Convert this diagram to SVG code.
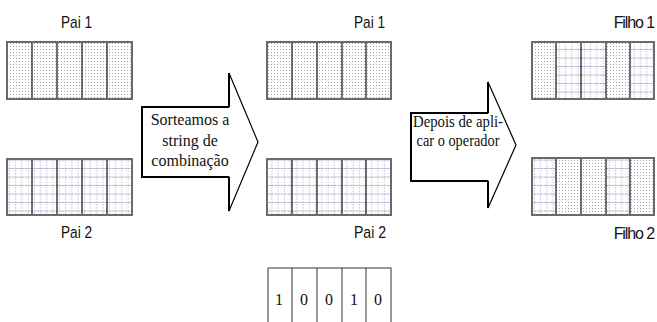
<svg xmlns="http://www.w3.org/2000/svg" width="657" height="322" viewBox="0 0 657 322">
<style>
.bg{fill:#fff}
.lbl{font-family:"Liberation Sans",Arial,sans-serif;font-size:17px;fill:#111}
.lble{font-family:"Liberation Sans",Arial,sans-serif;font-size:16px;letter-spacing:-1.1px;fill:#111;text-anchor:end}
.tx{font-family:"Liberation Serif","Times New Roman",serif;font-size:16px;fill:#111;text-anchor:middle}
.dig{font-family:"Liberation Serif","Times New Roman",serif;font-size:16px;fill:#111;text-anchor:middle}
.frame{fill:none;stroke:#6a6a6a;stroke-width:2}
.div{stroke:#222;stroke-width:1.3}
.arrow{fill:#fff;stroke:#000;stroke-width:1.2;stroke-linejoin:miter}
.arrowb{fill:none;stroke:#000;stroke-width:2}
.dots{fill:url(#pDots)}
.grid{fill:url(#pGrid)}
</style>
<defs>
<pattern id="pDots" patternUnits="userSpaceOnUse" width="3" height="3">
<rect width="3" height="3" fill="#fff"/>
<rect x="1" y="1" width="1" height="1" fill="#a4a4b0"/>
</pattern>
<pattern id="pGrid" patternUnits="userSpaceOnUse" width="6.25" height="8.5">
<rect width="6.25" height="8.5" fill="#fff"/>
<line x1="3" y1="0" x2="3" y2="8.5" stroke="#bcbcd4" stroke-width="1" stroke-dasharray="1.5 1.5"/>
<line x1="0" y1="7" x2="6.25" y2="7" stroke="#a0a0cc" stroke-width="1" stroke-dasharray="2 1"/>
</pattern>
</defs>
<rect class="bg" width="657" height="322"/>

<g id="pai1-left">
<text class="lbl" x="61" y="28" textLength="31" lengthAdjust="spacingAndGlyphs">Pai 1</text>
<rect class="dots" x="7" y="42" width="125" height="57"/>
<line class="div" x1="32" y1="42" x2="32" y2="99"/><line class="div" x1="57" y1="42" x2="57" y2="99"/><line class="div" x1="82" y1="42" x2="82" y2="99"/><line class="div" x1="107" y1="42" x2="107" y2="99"/>
<rect class="frame" x="7" y="42" width="125" height="57"/>
</g>

<g id="pai2-left">
<rect class="grid" x="7" y="159" width="125" height="56"/>
<line class="div" x1="32" y1="159" x2="32" y2="215"/><line class="div" x1="57" y1="159" x2="57" y2="215"/><line class="div" x1="82" y1="159" x2="82" y2="215"/><line class="div" x1="107" y1="159" x2="107" y2="215"/>
<rect class="frame" x="7" y="159" width="125" height="56"/>
<text class="lbl" x="61" y="238" textLength="31" lengthAdjust="spacingAndGlyphs">Pai 2</text>
</g>

<g id="pai1-mid">
<text class="lbl" x="354" y="28" textLength="31" lengthAdjust="spacingAndGlyphs">Pai 1</text>
<rect class="dots" x="267" y="42" width="124" height="57"/>
<line class="div" x1="292" y1="42" x2="292" y2="99"/><line class="div" x1="317" y1="42" x2="317" y2="99"/><line class="div" x1="342" y1="42" x2="342" y2="99"/><line class="div" x1="366" y1="42" x2="366" y2="99"/>
<rect class="frame" x="267" y="42" width="124" height="57"/>
</g>

<g id="pai2-mid">
<rect class="grid" x="267" y="159" width="124" height="56"/>
<line class="div" x1="292" y1="159" x2="292" y2="215"/><line class="div" x1="317" y1="159" x2="317" y2="215"/><line class="div" x1="342" y1="159" x2="342" y2="215"/><line class="div" x1="366" y1="159" x2="366" y2="215"/>
<rect class="frame" x="267" y="159" width="124" height="56"/>
<text class="lbl" x="354" y="238" textLength="32" lengthAdjust="spacingAndGlyphs">Pai 2</text>
</g>

<g id="mask">
<rect x="268" y="268" width="123" height="70" fill="#fff" stroke="#333" stroke-width="1"/>
<line x1="292" y1="268" x2="292" y2="330" stroke="#333"/><line x1="317" y1="268" x2="317" y2="330" stroke="#333"/><line x1="342" y1="268" x2="342" y2="330" stroke="#333"/><line x1="366" y1="268" x2="366" y2="330" stroke="#333"/>
<text class="dig" x="279" y="305">1</text><text class="dig" x="304" y="305">0</text><text class="dig" x="329" y="305">0</text><text class="dig" x="354" y="305">1</text><text class="dig" x="378" y="305">0</text>
</g>

<g id="filho1">
<text class="lble" x="654" y="28">Filho 1</text>
<rect class="dots" x="532" y="42" width="24" height="57"/>
<rect class="grid" x="556" y="42" width="50" height="57"/>
<rect class="dots" x="606" y="42" width="24" height="57"/>
<rect class="grid" x="630" y="42" width="24" height="57"/>
<line class="div" x1="556" y1="42" x2="556" y2="99"/><line class="div" x1="581" y1="42" x2="581" y2="99"/><line class="div" x1="606" y1="42" x2="606" y2="99"/><line class="div" x1="630" y1="42" x2="630" y2="99"/>
<rect class="frame" x="532" y="42" width="122" height="57"/>
</g>

<g id="filho2">
<rect class="grid" x="532" y="158" width="24" height="57"/>
<rect class="dots" x="556" y="158" width="50" height="57"/>
<rect class="grid" x="606" y="158" width="24" height="57"/>
<rect class="dots" x="630" y="158" width="24" height="57"/>
<line class="div" x1="556" y1="158" x2="556" y2="215"/><line class="div" x1="581" y1="158" x2="581" y2="215"/><line class="div" x1="606" y1="158" x2="606" y2="215"/><line class="div" x1="630" y1="158" x2="630" y2="215"/>
<rect class="frame" x="532" y="158" width="122" height="57"/>
<text class="lble" x="654" y="239">Filho 2</text>
</g>

<g id="connectors">
<g id="arrow1">
<path class="arrow" d="M142,107 H229 V73 L258,142 L229,211 V177 H142 Z"/>
<path class="arrowb" d="M229,107 H142 V177 H229"/>
<line x1="229" y1="73" x2="229" y2="107" stroke="#000" stroke-width="2"/>
<line x1="229" y1="177" x2="229" y2="211" stroke="#000" stroke-width="2"/>
<text class="tx" x="190" y="125">Sorteamos a</text>
<text class="tx" x="190" y="146">string de</text>
<text class="tx" x="190" y="166">combinação</text>
</g>
<g id="arrow2">
<path class="arrow" d="M411,113 H488 V82 L516,145 L488,208 V181 H411 Z"/>
<path class="arrowb" d="M488,113 H411 V181 H488"/>
<line x1="488" y1="82" x2="488" y2="113" stroke="#000" stroke-width="2"/>
<line x1="488" y1="181" x2="488" y2="208" stroke="#000" stroke-width="2"/>
<text class="tx" x="458" y="127" textLength="90" lengthAdjust="spacingAndGlyphs">Depois de apli-</text>
<text class="tx" x="458" y="146" textLength="83" lengthAdjust="spacingAndGlyphs">car o operador</text>
</g>
</g>
</svg>
